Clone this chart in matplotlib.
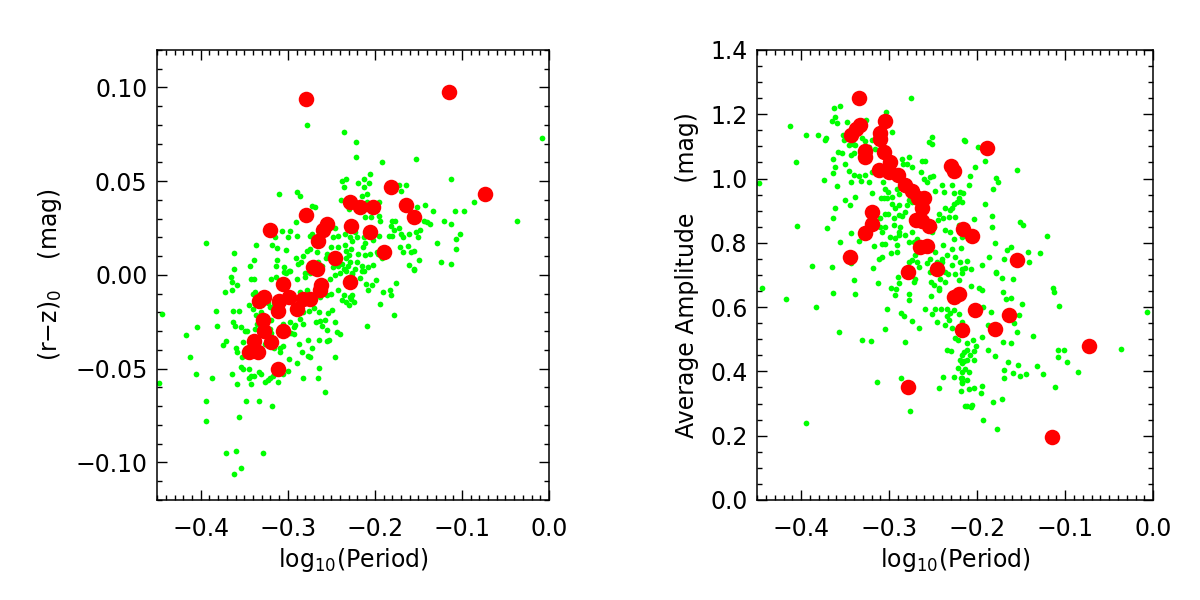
# plot.py
# Two-panel scatter: colour and amplitude against log10(Period).
import numpy as np
import matplotlib
matplotlib.use("Agg")
import matplotlib.pyplot as plt
from matplotlib.ticker import MultipleLocator

# ---- data ----
# left panel: (log10 P, (r-z)_0)
left_green = [
    (-0.278, 0.080), (-0.235, 0.076), (-0.233, 0.051), (-0.238, 0.050), (-0.235, 0.047),
    (-0.310, 0.043), (-0.290, 0.044), (-0.286, 0.042), (-0.272, 0.037), (-0.269, 0.036),
    (-0.239, 0.040), (-0.230, 0.035), (-0.291, 0.028), (-0.307, 0.0235), (-0.298, 0.0235),
    (-0.315, 0.020), (-0.2995, 0.020), (-0.289, 0.021), (-0.275, 0.0206), (-0.272, 0.022),
    (-0.246, 0.025), (-0.248, 0.020), (-0.242, 0.021), (-0.2345, 0.022), (-0.230, 0.024),
    (-0.394, 0.017), (-0.336, 0.016), (-0.318, 0.016), (-0.312, 0.0146), (-0.3025, 0.0135),
    (-0.362, 0.0115), (-0.339, 0.008), (-0.343, 0.005), (-0.362, 0.003), (-0.283, 0.010),
    (-0.2775, 0.013), (-0.275, 0.014), (-0.267, 0.012), (-0.255, 0.011), (-0.250, 0.015),
    (-0.242, 0.015), (-0.2345, 0.016), (-0.233, 0.013), (-0.227, 0.0137), (-0.291, 0.009),
    (-0.2885, 0.006), (-0.285, 0.007), (-0.312, 0.008), (-0.313, 0.005), (-0.304, 0.004),
    (-0.299, 0.002), (-0.304, 0.0016), (-0.265, 0.007), (-0.261, 0.005), (-0.256, 0.009),
    (-0.238, 0.006), (-0.233, 0.009), (-0.229, 0.007), (-0.280, 0.001), (-0.248, 0.004),
    (-0.242, 0.005), (-0.236, 0.003), (-0.231, 0.005),
    (-0.222, 0.071), (-0.222, 0.063), (-0.192, 0.060), (-0.153, 0.062), (-0.008, 0.073),
    (-0.206, 0.054), (-0.213, 0.051), (-0.207, 0.049), (-0.219, 0.049), (-0.212, 0.047),
    (-0.172, 0.048), (-0.164, 0.048), (-0.170, 0.045), (-0.112, 0.051), (-0.209, 0.043),
    (-0.215, 0.042), (-0.209, 0.039), (-0.195, 0.039), (-0.086, 0.039), (-0.142, 0.0375),
    (-0.152, 0.036), (-0.133, 0.034), (-0.1085, 0.034), (-0.098, 0.034), (-0.211, 0.031),
    (-0.204, 0.031), (-0.1955, 0.0315), (-0.194, 0.029), (-0.180, 0.029), (-0.177, 0.029),
    (-0.143, 0.029), (-0.140, 0.028), (-0.1365, 0.027), (-0.121, 0.029), (-0.113, 0.027),
    (-0.037, 0.029), (-0.182, 0.026), (-0.172, 0.025), (-0.1785, 0.024), (-0.223, 0.023),
    (-0.228, 0.020), (-0.221, 0.020), (-0.213, 0.020), (-0.226, 0.018), (-0.211, 0.017),
    (-0.214, 0.015), (-0.202, 0.0185), (-0.195, 0.021), (-0.184, 0.021), (-0.180, 0.021),
    (-0.1705, 0.022), (-0.168, 0.020), (-0.161, 0.022), (-0.153, 0.023), (-0.148, 0.024),
    (-0.150, 0.020), (-0.129, 0.017), (-0.107, 0.019), (-0.1025, 0.022), (-0.171, 0.015),
    (-0.162, 0.0155), (-0.168, 0.012), (-0.158, 0.012), (-0.155, 0.013), (-0.107, 0.014),
    (-0.149, 0.008), (-0.161, 0.0055), (-0.155, 0.003), (-0.124, 0.007), (-0.113, 0.006),
    (-0.230, 0.0105), (-0.219, 0.011), (-0.211, 0.0105), (-0.206, 0.011), (-0.202, 0.0055),
    (-0.221, 0.007), (-0.223, 0.003), (-0.215, 0.005), (-0.208, 0.004), (-0.213, 0.002),
    (-0.226, 0.001), (-0.192, 0.009), (-0.196, 0.011), (-0.198, 0.012),
    (-0.365, -0.001), (-0.364, -0.004), (-0.358, -0.0055), (-0.342, -0.002), (-0.339, -0.002),
    (-0.319, -0.002), (-0.313, -0.001), (-0.3025, 0.001), (-0.297, 0.002), (-0.289, -0.002),
    (-0.280, -0.001), (-0.274, 0.001), (-0.2515, -0.002), (-0.246, 0.000), (-0.240, 0.001),
    (-0.233, 0.002),
    (-0.444, -0.021), (-0.372, -0.009), (-0.364, -0.008), (-0.383, -0.019), (-0.381, -0.027),
    (-0.4045, -0.028), (-0.4166, -0.032), (-0.412, -0.044), (-0.406, -0.053), (-0.3875, -0.055),
    (-0.3705, -0.035), (-0.374, -0.0375), (-0.363, -0.019), (-0.3626, -0.025), (-0.3565, -0.019),
    (-0.361, -0.027), (-0.3535, -0.028), (-0.349, -0.030), (-0.3467, -0.030), (-0.351, -0.036),
    (-0.359, -0.039), (-0.358, -0.041), (-0.353, -0.044), (-0.354, -0.049), (-0.352, -0.050),
    (-0.364, -0.053), (-0.358, -0.058), (-0.345, -0.050), (-0.342, -0.054), (-0.339, -0.054),
    (-0.345, -0.055), (-0.342, -0.058), (-0.333, -0.052), (-0.331, -0.053), (-0.326, -0.057),
    (-0.323, -0.056), (-0.320, -0.055), (-0.317, -0.054), (-0.311, -0.057), (-0.305, -0.053),
    (-0.2995, -0.051), (-0.2987, -0.045), (-0.306, -0.038), (-0.309, -0.0387), (-0.309, -0.041),
    (-0.316, -0.0387), (-0.326, -0.037), (-0.319, -0.031), (-0.321, -0.029), (-0.340, -0.018),
    (-0.344, -0.016), (-0.338, -0.015), (-0.335, -0.012), (-0.329, -0.0096), (-0.338, -0.009),
    (-0.3395, -0.010), (-0.331, -0.020), (-0.3365, -0.0215), (-0.328, -0.022), (-0.323, -0.015),
    (-0.321, -0.017), (-0.316, -0.016), (-0.319, -0.024), (-0.335, -0.026), (-0.330, -0.026),
    (-0.338, -0.029), (-0.306, -0.026), (-0.298, -0.025), (-0.2987, -0.031), (-0.296, -0.031),
    (-0.293, -0.0316), (-0.292, -0.0265), (-0.293, -0.028), (-0.2855, -0.0233), (-0.282, -0.026),
    (-0.2825, -0.020), (-0.2855, -0.0153), (-0.276, -0.019), (-0.270, -0.0174), (-0.264, -0.0197),
    (-0.263, -0.0245), (-0.268, -0.025), (-0.261, -0.027), (-0.257, -0.0238), (-0.2534, -0.0202),
    (-0.2496, -0.0185), (-0.2458, -0.025), (-0.2553, -0.0295), (-0.243, -0.0304), (-0.240, -0.0316),
    (-0.253, -0.0345), (-0.2545, -0.0352), (-0.2636, -0.0348), (-0.277, -0.0348), (-0.287, -0.0366),
    (-0.284, -0.041), (-0.277, -0.0433), (-0.275, -0.044), (-0.272, -0.039), (-0.289, -0.047),
    (-0.2825, -0.0549), (-0.2655, -0.0549), (-0.2636, -0.0496), (-0.2454, -0.0437), (-0.257, -0.0624),
    (-0.2855, -0.009), (-0.278, -0.0082), (-0.274, -0.0108), (-0.263, -0.0117), (-0.255, -0.0108),
    (-0.250, -0.0103), (-0.242, -0.0082), (-0.236, -0.0108), (-0.238, -0.0135), (-0.2326, -0.0144),
    (-0.229, -0.0117),
    (-0.394, -0.067), (-0.394, -0.078), (-0.348, -0.067), (-0.333, -0.067), (-0.318, -0.070),
    (-0.356, -0.076), (-0.3705, -0.095), (-0.360, -0.094), (-0.329, -0.095), (-0.362, -0.106),
    (-0.3535, -0.103), (-0.448, -0.0575),
    (-0.2144, 0.002), (-0.1546, 0.0025), (-0.2265, 0.0007), (-0.217, -0.0014), (-0.2106, -0.0046),
    (-0.203, -0.0055), (-0.1992, -0.0028), (-0.1754, -0.0041), (-0.1906, -0.0089), (-0.183, -0.0078),
    (-0.181, -0.0108), (-0.2083, -0.0082), (-0.226, -0.0108), (-0.2272, -0.0126), (-0.2234, -0.0144),
    (-0.230, -0.0162), (-0.1936, -0.0153), (-0.1785, -0.0213), (-0.2087, -0.0272),
]

left_red = [
    (-0.279, 0.094), (-0.321, 0.024), (-0.279, 0.032), (-0.255, 0.027), (-0.259, 0.024),
    (-0.265, 0.018), (-0.229, 0.039), (-0.227, 0.026), (-0.246, 0.009), (-0.271, 0.004),
    (-0.266, 0.003), (-0.115, 0.0975), (-0.073, 0.043), (-0.181, 0.047), (-0.217, 0.036),
    (-0.202, 0.036), (-0.164, 0.0375), (-0.155, 0.031), (-0.206, 0.023), (-0.189, 0.012),
    (-0.305, -0.005), (-0.327, -0.012), (-0.333, -0.014), (-0.310, -0.014), (-0.299, -0.012),
    (-0.311, -0.019), (-0.289, -0.018), (-0.282, -0.013), (-0.275, -0.013), (-0.263, -0.008),
    (-0.262, -0.0055), (-0.229, -0.004), (-0.328, -0.024), (-0.327, -0.030), (-0.306, -0.030),
    (-0.339, -0.035), (-0.319, -0.036), (-0.344, -0.041), (-0.334, -0.041), (-0.311, -0.050),
]

# right panel: (log10 P, average amplitude)
right_green = [
    (-0.275, 1.252), (-0.3625, 1.218), (-0.3557, 1.225), (-0.4125, 1.164), (-0.3614, 1.192),
    (-0.3652, 1.178), (-0.3595, 1.174), (-0.3481, 1.176), (-0.353, 1.137), (-0.3508, 1.121),
    (-0.3462, 1.104), (-0.3417, 1.106), (-0.3386, 1.104), (-0.3405, 1.078), (-0.3432, 1.073),
    (-0.3261, 1.181), (-0.3034, 1.207), (-0.297, 1.145), (-0.331, 1.126), (-0.3273, 1.117),
    (-0.3197, 1.119), (-0.3227, 1.098), (-0.3159, 1.093), (-0.3943, 1.135), (-0.3811, 1.135),
    (-0.3716, 1.126), (-0.3727, 1.121), (-0.4057, 1.050), (-0.3583, 1.083), (-0.3538, 1.078),
    (-0.3633, 1.062), (-0.350, 1.045), (-0.364, 1.016), (-0.3621, 1.036), (-0.3746, 0.995),
    (-0.3595, 0.977), (-0.3455, 1.023), (-0.3405, 1.012), (-0.3432, 0.990), (-0.3348, 1.008),
    (-0.3318, 0.992), (-0.3273, 1.012), (-0.3197, 1.021), (-0.3235, 0.990), (-0.3121, 1.026),
    (-0.3197, 0.955), (-0.3076, 0.988), (-0.3045, 0.969), (-0.3091, 0.938), (-0.3064, 0.938),
    (-0.3027, 0.938), (-0.297, 0.943), (-0.3008, 0.959), (-0.2913, 0.967), (-0.2894, 0.953),
    (-0.2856, 1.062), (-0.278, 1.067), (-0.2845, 1.044), (-0.2799, 1.045), (-0.2742, 1.036),
    (-0.2629, 1.054), (-0.2591, 1.054), (-0.2553, 1.114), (-0.2515, 1.106), (-0.2515, 1.130),
    (-0.2636, 1.021), (-0.261, 1.000), (-0.2534, 1.005), (-0.2504, 1.007), (-0.2572, 0.990),
    (-0.2477, 0.961), (-0.2402, 0.979), (-0.2375, 0.959), (-0.2288, 0.979), (-0.2269, 0.955),
    (-0.2193, 0.959), (-0.2212, 0.938), (-0.2231, 0.927), (-0.2269, 0.922), (-0.2288, 0.907),
    (-0.2314, 0.902), (-0.2174, 0.927), (-0.2155, 1.119), (-0.3394, 0.943), (-0.350, 0.933),
    (-0.3451, 0.917), (-0.3614, 0.907), (-0.3633, 0.878), (-0.4045, 0.852), (-0.3708, 0.845),
    (-0.3439, 0.832), (-0.3557, 0.803), (-0.3348, 0.805), (-0.317, 0.790), (-0.3045, 0.797),
    (-0.2989, 0.819), (-0.2939, 0.816), (-0.2894, 0.834), (-0.2875, 0.850), (-0.2894, 0.824),
    (-0.2951, 0.876), (-0.2951, 0.855), (-0.2856, 0.884), (-0.2818, 0.896), (-0.2799, 0.917),
    (-0.278, 0.933), (-0.2742, 0.927), (-0.2894, 0.917), (-0.2932, 0.907), (-0.2894, 0.886),
    (-0.3045, 0.891), (-0.3008, 0.891), (-0.3102, 0.876), (-0.3102, 0.850), (-0.3045, 0.850),
    (-0.297, 0.922), (-0.3083, 0.834), (-0.3083, 0.795), (-0.2913, 0.793), (-0.2818, 0.824),
    (-0.2742, 0.834), (-0.2686, 0.813), (-0.2723, 0.803), (-0.278, 0.803), (-0.2515, 0.834),
    (-0.2496, 0.850), (-0.2447, 0.870), (-0.2439, 0.891), (-0.2383, 0.876), (-0.2364, 0.907),
    (-0.2326, 0.881), (-0.225, 0.881), (-0.2212, 0.855), (-0.2174, 0.819), (-0.2307, 0.834),
    (-0.2364, 0.839), (-0.2269, 0.813), (-0.2383, 0.793), (-0.2477, 0.772), (-0.2402, 0.751),
    (-0.2288, 0.782), (-0.2345, 0.762), (-0.225, 0.756), (-0.2193, 0.741), (-0.2174, 0.720),
    (-0.2288, 0.731), (-0.2402, 0.741), (-0.2458, 0.741), (-0.2534, 0.751), (-0.2572, 0.736),
    (-0.2686, 0.741), (-0.2705, 0.762), (-0.2742, 0.746), (-0.2667, 0.725), (-0.278, 0.741),
    (-0.2913, 0.772), (-0.2977, 0.768), (-0.3083, 0.756), (-0.3121, 0.751), (-0.3186, 0.722),
    (-0.3432, 0.736), (-0.3652, 0.725), (-0.3879, 0.727), (-0.2534, 0.708), (-0.2364, 0.710),
    (-0.225, 0.702),
    (-0.214, 1.117), (-0.1992, 1.098), (-0.1913, 1.055), (-0.203, 1.036), (-0.2083, 1.008),
    (-0.2095, 0.981), (-0.2159, 0.956), (-0.1784, 1.003), (-0.1761, 0.988), (-0.1818, 0.967),
    (-0.1545, 1.028), (-0.1917, 0.922), (-0.2038, 0.874), (-0.1837, 0.884), (-0.1837, 0.850),
    (-0.1508, 0.865), (-0.1477, 0.855), (-0.1803, 0.800), (-0.2189, 0.784), (-0.2121, 0.743),
    (-0.2144, 0.722), (-0.2076, 0.720), (-0.1943, 0.731), (-0.1867, 0.756), (-0.1792, 0.708),
    (-0.1697, 0.751), (-0.1667, 0.777), (-0.1614, 0.788), (-0.1424, 0.770), (-0.1413, 0.739),
    (-0.1292, 0.769), (-0.1212, 0.821),
    (-0.3405, 0.684), (-0.3129, 0.674), (-0.3644, 0.645), (-0.3394, 0.642), (-0.417, 0.624),
    (-0.383, 0.601), (-0.2977, 0.661), (-0.2924, 0.655), (-0.2894, 0.674), (-0.2902, 0.694),
    (-0.2939, 0.637), (-0.278, 0.640), (-0.2773, 0.622), (-0.2723, 0.679), (-0.2705, 0.686),
    (-0.253, 0.679), (-0.2496, 0.668), (-0.2439, 0.661), (-0.242, 0.686), (-0.2371, 0.679),
    (-0.2333, 0.703), (-0.2212, 0.684), (-0.2174, 0.707), (-0.2527, 0.634), (-0.2439, 0.653),
    (-0.3027, 0.593), (-0.2867, 0.582), (-0.2837, 0.572), (-0.2742, 0.558), (-0.2667, 0.534),
    (-0.2598, 0.593), (-0.2508, 0.580), (-0.2485, 0.593), (-0.2413, 0.593), (-0.2345, 0.593),
    (-0.2307, 0.582), (-0.2269, 0.591), (-0.2345, 0.572), (-0.2364, 0.544), (-0.2326, 0.560),
    (-0.2458, 0.554), (-0.2288, 0.534), (-0.2212, 0.580), (-0.2174, 0.544), (-0.3568, 0.522),
    (-0.3311, 0.497), (-0.3205, 0.494), (-0.3053, 0.532), (-0.2818, 0.492), (-0.225, 0.503),
    (-0.2223, 0.499), (-0.2345, 0.468), (-0.2299, 0.463), (-0.2174, 0.451), (-0.2193, 0.435),
    (-0.2174, 0.425), (-0.222, 0.411), (-0.2174, 0.399), (-0.239, 0.383), (-0.2258, 0.383),
    (-0.2182, 0.381), (-0.2174, 0.366), (-0.2439, 0.347), (-0.2182, 0.340), (-0.2144, 0.292),
    (-0.2871, 0.378), (-0.3136, 0.368), (-0.2758, 0.278), (-0.3947, 0.238),
    (-0.1792, 0.707), (-0.1716, 0.692), (-0.1595, 0.689), (-0.2076, 0.665), (-0.1981, 0.658),
    (-0.1943, 0.653), (-0.1705, 0.646), (-0.1678, 0.624), (-0.1621, 0.627), (-0.1136, 0.658),
    (-0.1129, 0.648), (-0.1072, 0.604), (-0.1489, 0.609), (-0.1841, 0.585), (-0.1932, 0.599),
    (-0.217, 0.554), (-0.1879, 0.544), (-0.1583, 0.551), (-0.1527, 0.575), (-0.1545, 0.523),
    (-0.1364, 0.511), (-0.1705, 0.492), (-0.1621, 0.489), (-0.1951, 0.506), (-0.2045, 0.499),
    (-0.2121, 0.489), (-0.2011, 0.479), (-0.2114, 0.466), (-0.2038, 0.464), (-0.2152, 0.461),
    (-0.2083, 0.451), (-0.2038, 0.437), (-0.2114, 0.435), (-0.2152, 0.433), (-0.2133, 0.409),
    (-0.2095, 0.399), (-0.217, 0.378), (-0.2114, 0.373), (-0.217, 0.363), (-0.2038, 0.347),
    (-0.2095, 0.344), (-0.1951, 0.355), (-0.1962, 0.332), (-0.1879, 0.468), (-0.1799, 0.448),
    (-0.1648, 0.430), (-0.1534, 0.420), (-0.1697, 0.404), (-0.1697, 0.378), (-0.1595, 0.394),
    (-0.1515, 0.385), (-0.1443, 0.392), (-0.1326, 0.417), (-0.125, 0.391), (-0.1117, 0.350),
    (-0.108, 0.466), (-0.1015, 0.466), (-0.1083, 0.446), (-0.0985, 0.430), (-0.0852, 0.399),
    (-0.0364, 0.469), (-0.0076, 0.585), (-0.1822, 0.304), (-0.1716, 0.313), (-0.2121, 0.292),
    (-0.2057, 0.295), (-0.2076, 0.290), (-0.1932, 0.249), (-0.178, 0.220),
    (-0.448, 0.985), (-0.445, 0.659),
]

right_red = [
    (-0.334, 1.251), (-0.333, 1.166), (-0.338, 1.153), (-0.343, 1.137), (-0.305, 1.178),
    (-0.310, 1.143), (-0.310, 1.122), (-0.328, 1.085), (-0.327, 1.067), (-0.306, 1.083),
    (-0.299, 1.050), (-0.312, 1.028), (-0.300, 1.021), (-0.290, 1.010), (-0.282, 0.979),
    (-0.274, 0.961), (-0.267, 0.938), (-0.260, 0.938), (-0.263, 0.907), (-0.270, 0.871),
    (-0.263, 0.868), (-0.255, 0.853), (-0.320, 0.896), (-0.319, 0.860), (-0.327, 0.832),
    (-0.2295, 1.039), (-0.226, 1.023), (-0.216, 0.844), (-0.265, 0.787), (-0.257, 0.790),
    (-0.345, 0.756), (-0.279, 0.710), (-0.246, 0.720), (-0.189, 1.096), (-0.206, 0.822),
    (-0.155, 0.746), (-0.226, 0.632), (-0.221, 0.642), (-0.217, 0.528), (-0.279, 0.350),
    (-0.202, 0.591), (-0.164, 0.575), (-0.180, 0.532), (-0.073, 0.479), (-0.115, 0.197),
]

xlabel = r"log$_{10}$(Period)"
left_ylabel = r"(r$-$z)$_0$    (mag)"
right_ylabel = "Average Amplitude    (mag)"

GREEN = "#00ff00"
RED = "#ff0000"


def style_axes(ax, xmaj, xmin, ymaj, ymin):
    for s in ax.spines.values():
        s.set_linewidth(1.1)
    ax.xaxis.set_major_locator(MultipleLocator(xmaj))
    ax.xaxis.set_minor_locator(MultipleLocator(xmin))
    ax.yaxis.set_major_locator(MultipleLocator(ymaj))
    ax.yaxis.set_minor_locator(MultipleLocator(ymin))
    ax.tick_params(which="both", direction="in", top=True, right=True,
                   width=1.0, labelsize=17)
    ax.tick_params(which="major", length=7.5)
    ax.tick_params(which="minor", length=3.5)
    ax.tick_params(axis="x", pad=12)
    ax.tick_params(axis="y", pad=7)


def draw(ax, green, red):
    g = np.array(green)
    r = np.array(red)
    ax.scatter(g[:, 0], g[:, 1], s=17, c=GREEN, linewidths=0, zorder=2)
    ax.scatter(r[:, 0], r[:, 1], s=125, c=RED, linewidths=0, zorder=3)


fig = plt.figure(figsize=(12, 6), dpi=100)

ax1 = fig.add_axes([0.131, 0.1667, 0.3265, 0.75])
draw(ax1, left_green, left_red)
ax1.set_xlim(-0.45, 0.0)
ax1.set_ylim(-0.12, 0.12)
style_axes(ax1, 0.1, 0.01, 0.05, 0.01)
ax1.set_xlabel(xlabel, fontsize=17, labelpad=4)
ax1.set_ylabel(left_ylabel, fontsize=17, labelpad=8)

ax2 = fig.add_axes([0.631, 0.1667, 0.330, 0.75])
draw(ax2, right_green, right_red)
ax2.set_xlim(-0.45, 0.0)
ax2.set_ylim(0.0, 1.4)
style_axes(ax2, 0.1, 0.01, 0.2, 0.05)
ax2.set_xlabel(xlabel, fontsize=17, labelpad=4)
ax2.set_ylabel(right_ylabel, fontsize=17, labelpad=8)

fig.savefig("out.png", dpi=100)
